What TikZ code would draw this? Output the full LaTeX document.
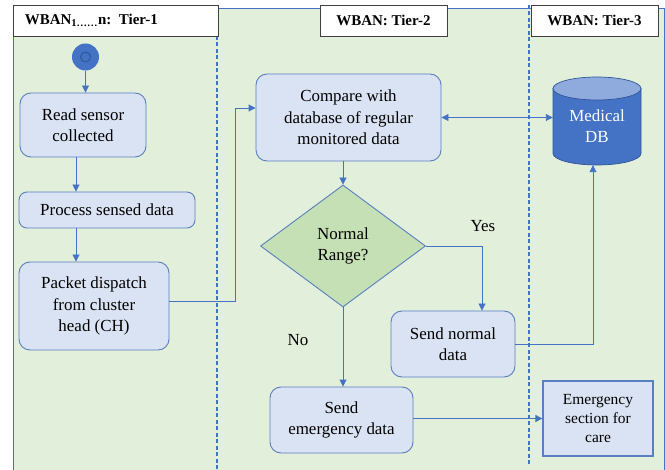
\documentclass[tikz,border=0pt]{standalone}
\usepackage{fontspec}
\setmainfont{Liberation Serif}
\usetikzlibrary{arrows.meta,shapes.geometric}
\definecolor{bgG}{HTML}{E2EFDA}
\definecolor{boxF}{HTML}{DAE3F3}
\definecolor{bord}{HTML}{5A7EC2}
\definecolor{lineB}{HTML}{4472C4}
\definecolor{diaF}{HTML}{C5E0B4}
\definecolor{dbTop}{HTML}{8FAADC}
\definecolor{dbEdge}{HTML}{2F5597}
\begin{document}
\begin{tikzpicture}[x=1bp,y=-1bp,
  txt/.style={font=\fontsize{17}{21.5}\selectfont},
  box/.style={draw=bord, fill=boxF, rounded corners=11bp, line width=0.9bp, align=center, inner sep=0pt, txt},
  hdr/.style={draw=black!75, fill=white, line width=0.9bp, inner sep=0pt, font=\fontsize{15}{18}\selectfont\bfseries},
  arr/.style={draw=lineB, line width=0.9bp, -{Triangle[length=7bp,width=7bp]}},
  laneline/.style={draw=lineB, line width=1.3bp, dash pattern=on 4bp off 2.5bp}
]
\useasboundingbox (0,0) rectangle (665,470);
% background
\fill[bgG] (13,8) rectangle (664,470);
\draw[lineB, line width=0.9bp] (13,470) -- (13,8) -- (664,8) -- (664,470);
% lane separators
\draw[laneline] (217,36) -- (217,470);
\draw[laneline] (529,5) -- (529,465);
% headers
\node[hdr, minimum width=205bp, minimum height=31bp, text width=181bp, align=left] (h1) at (115.5,20.5) {WBAN\textsubscript{1……}n: Tier-1};
\node[hdr, minimum width=127bp, minimum height=31bp] (h2) at (383.5,20.5) {WBAN: Tier-2};
\node[hdr, minimum width=127bp, minimum height=31bp] (h3) at (594.5,20.5) {WBAN: Tier-3};
% start
\node[circle, fill=lineB, minimum size=27bp, inner sep=0pt] (start) at (85.5,57) {};
\draw[dbEdge, line width=0.9bp] (start.center) circle (5bp);
% boxes
\node[box, minimum width=126bp, minimum height=64bp] (read) at (83,125) {Read sensor\\collected};
\node[box, rounded corners=8bp, minimum width=176bp, minimum height=36bp] (proc) at (107,210) {Process sensed data};
\node[box, minimum width=150bp, minimum height=88bp] (pack) at (94,306) {Packet dispatch\\from cluster\\head (CH)};
\node[box, minimum width=185bp, minimum height=87bp] (cmp) at (348.5,117.5) {Compare with\\database of regular\\monitored data};
\node[diamond, draw=bord, fill=diaF, line width=0.9bp, inner sep=0pt, aspect=1.35, minimum width=165bp, minimum height=122bp, align=center, txt] (dia) at (343,246) {Normal\\Range?};
\node[box, minimum width=124bp, minimum height=66bp] (norm) at (453,344) {Send normal\\data};
\node[box, minimum width=143bp, minimum height=66bp] (emg) at (341.5,420) {Send\\emergency data};
\node[draw=bord, fill=boxF, line width=1.3bp, minimum width=110bp, minimum height=75bp, inner sep=0pt, align=center, font=\fontsize{15.5}{19}\selectfont] (sec) at (598,418.5) {Emergency\\section for\\care};
% database cylinder
\node[minimum width=88bp, minimum height=88bp, inner sep=0pt] (db) at (597,121) {};
\filldraw[fill=lineB, draw=dbEdge, line width=0.7bp] (553,88.5) -- (553,153.5) arc[start angle=180, end angle=360, x radius=44bp, y radius=11.5bp] -- (641,88.5) -- cycle;
\filldraw[fill=dbTop, draw=dbEdge, line width=0.7bp] (597,88.5) ellipse [x radius=44bp, y radius=11.5bp];
\node[txt, text=white, align=center] (dbt) at (597,126) {Medical\\DB};
% labels
\node[txt] (yes) at (483,226) {Yes};
\node[txt] (no) at (298,340) {No};
% connectors
\draw[arr] (start) -- (start |- read.north);
\draw[arr] ([xshift=-7bp]read.south) -- ([xshift=-7bp]read.south |- proc.north);
\draw[arr] ([xshift=-31bp]proc.south) -- ([xshift=-31bp]proc.south |- pack.north);
\draw[arr] ([yshift=4.5bp]pack.east) -- ++(66,0) |- ([yshift=9.5bp]cmp.west);
\draw[arr] (dia.north |- cmp.south) -- (dia.north);
\draw[arr] (dia.east) -| ([xshift=29bp]norm.north);
\draw[arr] (norm.east) -| ([xshift=-4bp]db.south);
\draw[arr] (dia.south) -- (dia.south |- emg.north);
\draw[arr] ([yshift=1.5bp]emg.east) -- ([yshift=1.5bp]emg.east -| sec.west);
\draw[draw=lineB, line width=0.9bp, {Triangle[length=7bp,width=7bp]}-{Triangle[length=7bp,width=7bp]}] (cmp.east) -- (cmp.east -| db.west);
\end{tikzpicture}
\end{document}
